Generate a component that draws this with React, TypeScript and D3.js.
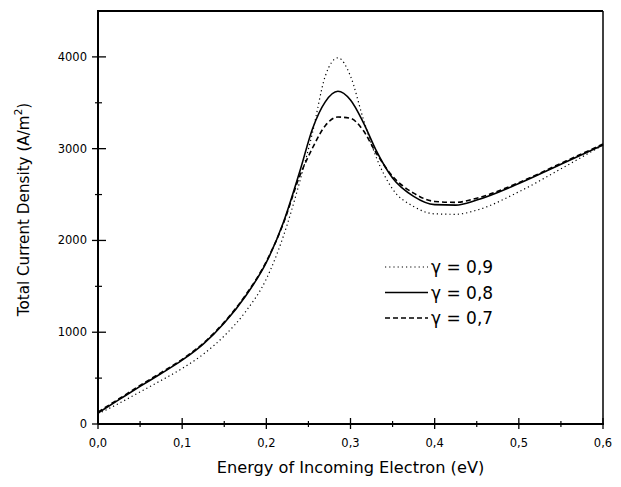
import React from 'react';
import * as d3 from 'd3';

// energies (eV) where the curves were sampled
const energy = [0, 0.025, 0.05, 0.075, 0.1, 0.125, 0.15, 0.175, 0.2, 0.22, 0.24, 0.255, 0.27, 0.285, 0.3, 0.315, 0.33, 0.35, 0.375, 0.4, 0.425, 0.45, 0.5, 0.55, 0.6];

// total current density (A/m^2) for each gamma
const gamma09 = [110, 225, 350, 475, 605, 760, 960, 1220, 1580, 2040, 2650, 3180, 3790, 3990, 3790, 3330, 2920, 2560, 2370, 2290, 2285, 2330, 2530, 2780, 3040];
const gamma08 = [120, 265, 410, 550, 695, 870, 1100, 1390, 1760, 2190, 2760, 3220, 3510, 3625, 3530, 3290, 2990, 2680, 2480, 2390, 2385, 2440, 2620, 2830, 3040];
const gamma07 = [130, 275, 420, 560, 705, 880, 1110, 1400, 1770, 2180, 2710, 3010, 3250, 3345, 3330, 3200, 2960, 2700, 2515, 2425, 2415, 2460, 2630, 2840, 3050];

const legendLabels = ['γ = 0,9', 'γ = 0,8', 'γ = 0,7'];
const xTicks = [0, 0.1, 0.2, 0.3, 0.4, 0.5, 0.6];
const yTicks = [0, 1000, 2000, 3000, 4000];

const width = 621;
const height = 487;
const margin = { left: 98, right: 18, top: 11, bottom: 63 };

const x = d3.scaleLinear().domain([0, 0.6]).range([margin.left, width - margin.right]);
const y = d3.scaleLinear().domain([0, 4500]).range([height - margin.bottom, margin.top]);

const line = d3
  .line<number>()
  .x((_, i) => x(energy[i]))
  .y(d => y(d))
  .curve(d3.curveMonotoneX);

const series = [
  { values: gamma09, dash: '1.2,3', w: 1.2 },
  { values: gamma08, dash: null, w: 1.6 },
  { values: gamma07, dash: '5,3', w: 1.6 }
];

const fmt = (v: number) => v.toFixed(1).replace('.', ',');
const font = "'DejaVu Sans', sans-serif";

export default function App() {
  const x0 = x(0);
  const x1 = x(0.6);
  const y0 = y(0);
  const y1 = y(4500);
  const minorX = d3.range(0.05, 0.6, 0.1);
  const minorY = d3.range(500, 4500, 1000);
  return (
    <svg width={width} height={height} style={{ position: 'absolute', left: 0, top: 0, background: '#fff' }}>
      {/* frame */}
      <line x1={x0} y1={y1} x2={x1} y2={y1} stroke="#000" strokeWidth={1.8} />
      <line x1={x1} y1={y1} x2={x1} y2={y0} stroke="#000" strokeWidth={1.5} />
      <line x1={x0} y1={y0} x2={x1 + 1} y2={y0} stroke="#000" strokeWidth={2} />
      <line x1={x0} y1={y0} x2={x0} y2={y1 - 1} stroke="#000" strokeWidth={2} />

      {/* x ticks */}
      {xTicks.map(t => (
        <g key={t}>
          <line x1={x(t)} x2={x(t)} y1={y0 - 6} y2={y0 + 5} stroke="#000" strokeWidth={1.3} />
          <text x={x(t)} y={y0 + 23} textAnchor="middle" fontFamily={font} fontSize={11.5}>{fmt(t)}</text>
        </g>
      ))}
      {minorX.map(t => (
        <line key={t} x1={x(t)} x2={x(t)} y1={y0 - 3} y2={y0 + 3} stroke="#000" strokeWidth={1.2} />
      ))}

      {/* y ticks */}
      {yTicks.map(t => (
        <g key={t}>
          <line x1={x0 - 6} x2={x0 + 8} y1={y(t)} y2={y(t)} stroke="#000" strokeWidth={1.3} />
          <text x={x0 - 11} y={y(t) + 4} textAnchor="end" fontFamily={font} fontSize={11.5}>{t}</text>
        </g>
      ))}
      {minorY.map(t => (
        <line key={t} x1={x0 - 3} x2={x0 + 4} y1={y(t)} y2={y(t)} stroke="#000" strokeWidth={1.2} />
      ))}

      {/* curves */}
      {series.map((s, i) => (
        <path key={i} d={line(s.values) || ''} fill="none" stroke="#000" strokeWidth={s.w} strokeDasharray={s.dash || undefined} />
      ))}

      {/* legend */}
      {series.map((s, i) => {
        const ly = 267 + i * 25.5;
        return (
          <g key={i}>
            <line x1={385} x2={428} y1={ly} y2={ly} stroke="#000" strokeWidth={s.w} strokeDasharray={s.dash || undefined} />
            <text x={431} y={ly + 6} fontFamily={font} fontSize={17}>{legendLabels[i]}</text>
          </g>
        );
      })}

      {/* axis titles */}
      <text x={(x0 + x1) / 2} y={473} textAnchor="middle" fontFamily={font} fontSize={16.2}>Energy of Incoming Electron (eV)</text>
      <text transform={`translate(29,${(y0 + y1) / 2 - 8}) rotate(-90)`} textAnchor="middle" fontFamily={font} fontSize={15.2}>
        Total Current Density (A/m<tspan dy={-7} fontSize={10.5}>2</tspan><tspan dy={7}>)</tspan>
      </text>
    </svg>
  );
}
